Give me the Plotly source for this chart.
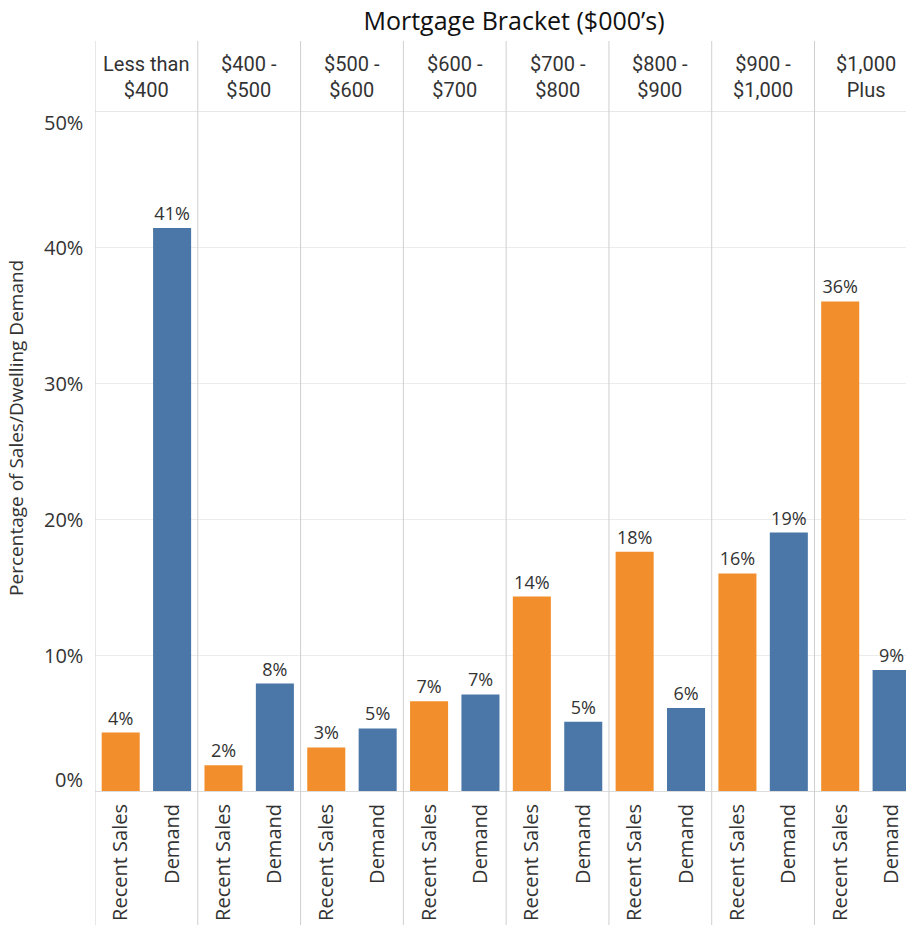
import plotly.graph_objects as go

# Mortgage brackets ($000's) and the share of recent sales / dwelling demand in each
brackets = ["Less than<br>$400", "$400 -<br>$500", "$500 -<br>$600", "$600 -<br>$700",
            "$700 -<br>$800", "$800 -<br>$900", "$900 -<br>$1,000", "$1,000<br>Plus"]
recent_sales = [4.3, 1.9, 3.2, 6.6, 14.3, 17.6, 16.0, 36.0]
demand = [41.4, 7.9, 4.6, 7.1, 5.1, 6.1, 19.0, 8.9]
series_names = ["Recent Sales", "Demand"]
y_ticks = [0, 10, 20, 30, 40, 50]

ORANGE = "#F28E2B"
BLUE = "#4A77A8"
GRID = "#ececec"
DIVIDER = "#cfcfcf"
TEXT = "#333333"
FONT = "Open Sans, DejaVu Sans, sans-serif"

n = len(brackets)
# each bracket holds two slots: recent sales then demand
rs_x = [2 * k for k in range(n)]
dm_x = [2 * k + 1 for k in range(n)]

fig = go.Figure()
for xs, vals, name, color in [(rs_x, recent_sales, series_names[0], ORANGE),
                              (dm_x, demand, series_names[1], BLUE)]:
    fig.add_trace(go.Bar(
        x=xs, y=vals, name=name, width=0.74,
        marker=dict(color=color, line=dict(width=0)),
        texttemplate="%{y:.0f}%", textposition="outside",
        textfont=dict(family=FONT, size=18, color=TEXT),
        constraintext="none", cliponaxis=False,
    ))

# bracket dividers running from the header down through the category labels
for k in range(n + 1):
    fig.add_shape(type="line", xref="x", yref="paper",
                  x0=2 * k - 0.5, x1=2 * k - 0.5, y0=-0.2, y1=1.103,
                  line=dict(color=DIVIDER, width=1))
# header bottom rule at the top of the value range
fig.add_shape(type="line", xref="paper", yref="y", x0=0, x1=1, y0=50, y1=50,
              line=dict(color=DIVIDER, width=1))

annotations = []
# bracket headers
for k, label in enumerate(brackets):
    annotations.append(dict(
        x=2 * k + 0.5, y=1, xref="x", yref="paper", yanchor="middle",
        yshift=34, text=label, showarrow=False,
        font=dict(family="Roboto, sans-serif", size=20, color=TEXT),
    ))
# value axis labels, kept inside the plotting band at both ends
for v in y_ticks:
    shift = 12 if v == y_ticks[0] else (-11 if v == y_ticks[-1] else 0)
    annotations.append(dict(
        x=0, y=v, xref="paper", yref="y", xanchor="right", yanchor="middle",
        xshift=-10, yshift=shift, text=f"{v}%", showarrow=False,
        font=dict(family=FONT, size=20, color=TEXT),
    ))
# value axis title
annotations.append(dict(
    x=0, y=0.534, xref="paper", yref="paper", xanchor="center", yanchor="middle",
    xshift=-79, textangle=-90, text="Percentage of Sales/Dwelling Demand",
    showarrow=False, font=dict(family=FONT, size=19, color=TEXT),
))

fig.update_layout(
    width=906, height=925,
    margin=dict(l=95, r=0, t=111, b=134),
    paper_bgcolor="white", plot_bgcolor="white",
    barmode="overlay", showlegend=False,
    title=dict(text="Mortgage Bracket ($000’s)", x=514 / 906, xanchor="center",
               y=1 - 21 / 925, yanchor="middle",
               font=dict(family=FONT, size=25, color="#111111")),
    annotations=annotations,
    xaxis=dict(
        range=[-0.5, 15.28], tickmode="array",
        tickvals=rs_x + dm_x,
        ticktext=[series_names[0]] * n + [series_names[1]] * n,
        tickangle=-90, ticks="", showgrid=False, zeroline=False,
        showline=False, ticklabelstandoff=8,
        tickfont=dict(family=FONT, size=20, color=TEXT),
    ),
    yaxis=dict(
        range=[0, 50], tickvals=y_ticks, showticklabels=False,
        showgrid=True, gridcolor=GRID, gridwidth=1,
        zeroline=True, zerolinecolor="#dcdcdc", zerolinewidth=1,
    ),
)

fig.write_html("out.html")
